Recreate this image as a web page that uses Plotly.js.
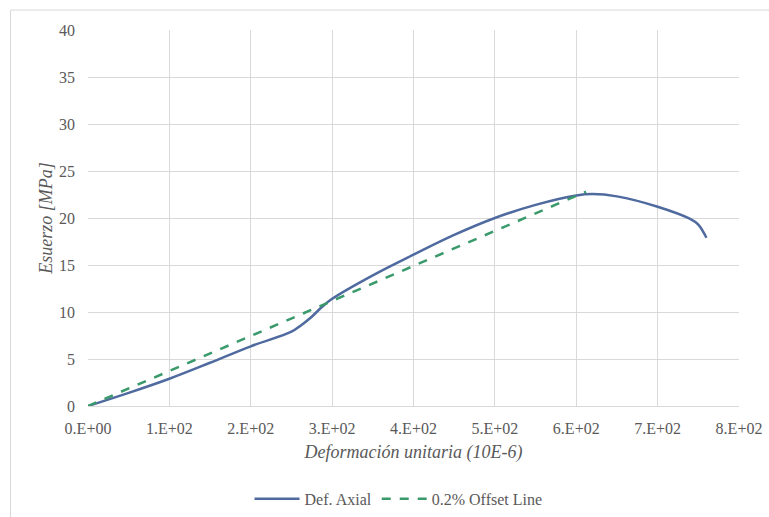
<!DOCTYPE html>
<html>
<head>
<meta charset="utf-8">
<script src="https://cdn.plot.ly/plotly-3.0.1.min.js"></script>
<style>
  html, body { margin: 0; padding: 0; background: #fff; }
  #chart { width: 769px; height: 517px; }
</style>
</head>
<body>
<div id="chart"></div>
<script>
// Def. Axial curve
const axialX = [0, 50, 100, 150, 200, 250, 262, 275, 287, 300, 350, 400, 450, 500, 550, 600, 620, 650, 700, 740, 750, 760];
const axialY = [0, 1.4, 2.9, 4.6, 6.35, 7.9, 8.6, 9.5, 10.5, 11.4, 13.9, 16.1, 18.2, 20.0, 21.4, 22.4, 22.55, 22.3, 21.2, 19.9, 19.3, 17.9];
// 0.2% Offset line
const offsetX = [0, 612];
const offsetY = [0, 22.8];
// ticks
const xTickVals = [0, 100, 200, 300, 400, 500, 600, 700, 800];
const xTickText = ["0.E+00", "1.E+02", "2.E+02", "3.E+02", "4.E+02", "5.E+02", "6.E+02", "7.E+02", "8.E+02"];
const yTickVals = [0, 5, 10, 15, 20, 25, 30, 35, 40];

const serif = "Liberation Serif, Times New Roman, DejaVu Serif, serif";
const gray = "#595959";

const traces = [
  {
    x: axialX, y: axialY, type: "scatter", mode: "lines", name: "Def. Axial",
    line: { color: "#4f6a9f", width: 2.5, shape: "spline", smoothing: 1 }
  },
  {
    x: offsetX, y: offsetY, type: "scatter", mode: "lines", name: "0.2% Offset Line",
    line: { color: "#3a9a6b", width: 2.5, dash: "dash" }
  }
];

const layout = {
  width: 769, height: 517,
  margin: { l: 88, r: 30, t: 30, b: 111 },
  paper_bgcolor: "#ffffff", plot_bgcolor: "#ffffff",
  font: { family: serif, color: gray, size: 16 },
  showlegend: true,
  legend: {
    orientation: "h", x: 0.477, xanchor: "center",
    yref: "container", y: 0.068, yanchor: "top",
    itemwidth: 45,
    font: { family: serif, size: 16, color: gray }
  },
  xaxis: {
    range: [0, 800], tickvals: xTickVals, ticktext: xTickText,
    automargin: false,
    showgrid: true, gridcolor: "#d9d9d9", gridwidth: 1,
    zeroline: false, showline: true, linecolor: "#d9d9d9", linewidth: 1,
    ticks: "", tickfont: { family: serif, size: 16, color: gray },
    ticklabelstandoff: 8,
    title: { text: "Deformación unitaria (10E-6)", font: { family: serif, size: 18, color: gray, style: "italic" }, standoff: 9 }
  },
  yaxis: {
    range: [0, 40], tickvals: yTickVals,
    automargin: false,
    showgrid: true, gridcolor: "#d9d9d9", gridwidth: 1,
    zeroline: false, showline: false, ticks: "",
    tickfont: { family: serif, size: 16, color: gray },
    ticklabelstandoff: 12,
    title: { text: "Esuerzo [MPa]", font: { family: serif, size: 18, color: gray, style: "italic" }, standoff: 1 }
  },
  shapes: [
    { type: "rect", xref: "paper", yref: "paper", x0: -0.119, x1: 1.2, y0: -0.4, y1: 1.053,
      line: { color: "#d9d9d9", width: 1 }, fillcolor: "rgba(0,0,0,0)", layer: "below" }
  ]
};

Plotly.newPlot("chart", traces, layout, { displayModeBar: false, staticPlot: true });
</script>
</body>
</html>
